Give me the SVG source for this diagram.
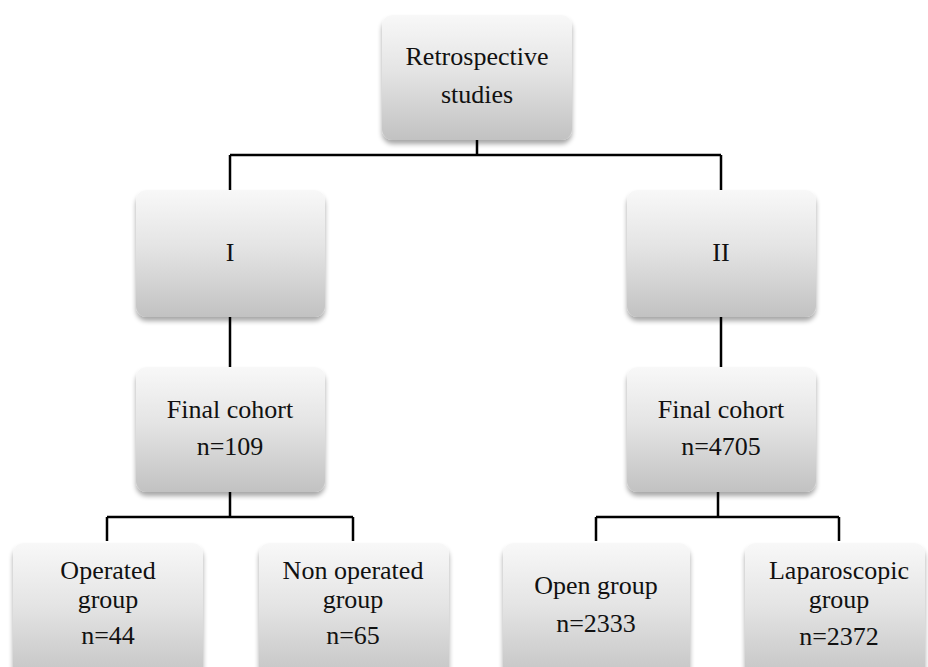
<svg xmlns="http://www.w3.org/2000/svg" width="928" height="667" viewBox="0 0 928 667">
<defs>
<linearGradient id="g" x1="0" y1="0" x2="0" y2="1">
<stop offset="0" stop-color="#f8f8f8"/>
<stop offset="0.45" stop-color="#e4e4e4"/>
<stop offset="1" stop-color="#c2c2c2"/>
</linearGradient>
<filter id="sh" x="-10%" y="-10%" width="120%" height="130%">
<feGaussianBlur in="SourceAlpha" stdDeviation="2.5"/>
<feOffset dx="0" dy="4" result="b"/>
<feComponentTransfer><feFuncA type="linear" slope="0.35"/></feComponentTransfer>
<feMerge><feMergeNode/><feMergeNode in="SourceGraphic"/></feMerge>
</filter>
<style>
.box{fill:url(#g);filter:url(#sh);}
.t{font-size:26px;fill:#111;text-anchor:middle;}
.c{stroke:#000;stroke-width:2.5;fill:none;}
</style>
</defs>
<rect width="928" height="667" fill="#fff"/>
<g id="connectors">
<path class="c" d="M477 140V155M230 155H721M230 155V190M721 155V190"/>
<path class="c" d="M230 317V367M721 317V367"/>
<path class="c" d="M230 492V517M107 517H353M107 517V541M353 517V541"/>
<path class="c" d="M718 492V517M596 517H839M596 517V541M839 517V541"/>
</g>
<g font-family="'Liberation Serif', 'DejaVu Serif', serif">
<g id="n-retro"><rect class="box" x="382" y="15" width="190" height="125" rx="11"/>
<text class="t" x="477" y="65">Retrospective</text><text class="t" x="477" y="103">studies</text></g>
<g id="n-I"><rect class="box" x="136" y="190" width="189" height="127" rx="11"/>
<text class="t" x="230" y="261">I</text></g>
<g id="n-II"><rect class="box" x="627" y="190" width="189" height="127" rx="11"/>
<text class="t" x="721" y="261">II</text></g>
<g id="n-fc1"><rect class="box" x="136" y="367" width="189" height="125" rx="11"/>
<text class="t" x="230" y="418">Final cohort</text><text class="t" x="230" y="455">n=109</text></g>
<g id="n-fc2"><rect class="box" x="627" y="367" width="189" height="125" rx="11"/>
<text class="t" x="721" y="418">Final cohort</text><text class="t" x="721" y="455">n=4705</text></g>
<g id="n-op"><rect class="box" x="13" y="543" width="190" height="140" rx="11"/>
<text class="t" x="108" y="579">Operated</text><text class="t" x="108" y="608">group</text><text class="t" x="108" y="644">n=44</text></g>
<g id="n-nop"><rect class="box" x="259" y="543" width="190" height="140" rx="11"/>
<text class="t" x="353" y="579">Non operated</text><text class="t" x="353" y="608">group</text><text class="t" x="353" y="644">n=65</text></g>
<g id="n-open"><rect class="box" x="503" y="543" width="187" height="140" rx="11"/>
<text class="t" x="596" y="594">Open group</text><text class="t" x="596" y="632">n=2333</text></g>
<g id="n-lap"><rect class="box" x="745" y="543" width="180" height="140" rx="11"/>
<text class="t" x="839" y="579">Laparoscopic</text><text class="t" x="839" y="608">group</text><text class="t" x="839" y="645">n=2372</text></g>
</g>
</svg>
